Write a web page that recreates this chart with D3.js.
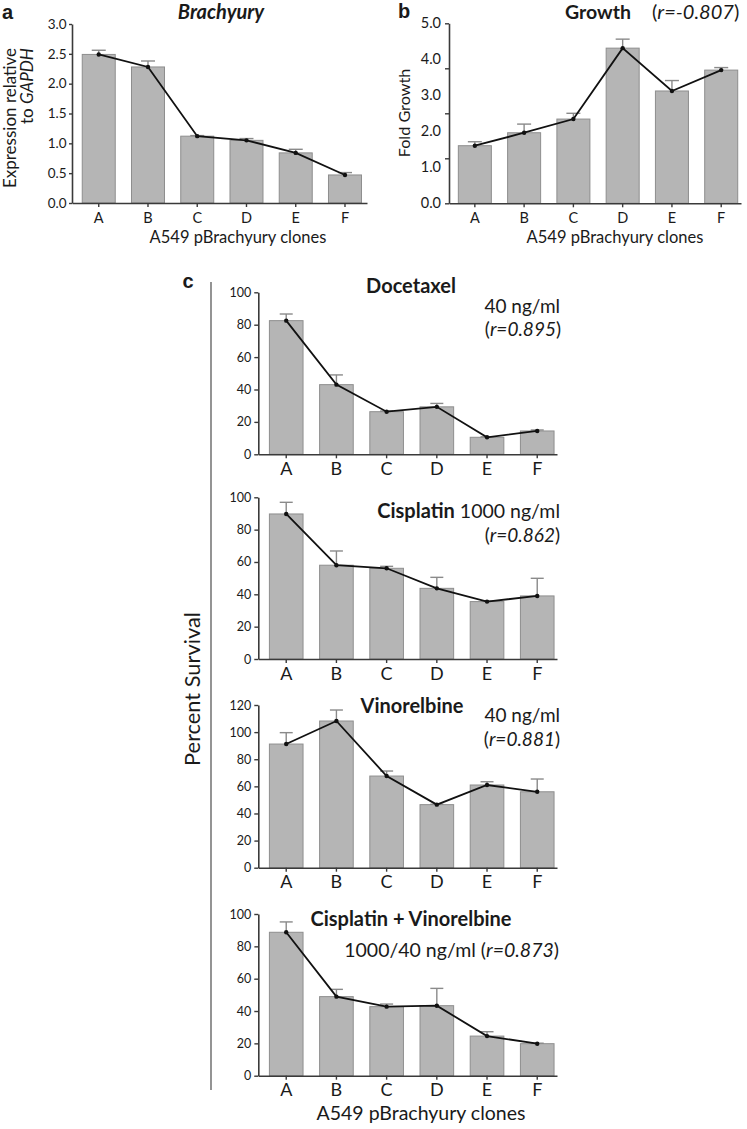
<!DOCTYPE html>
<html><head><meta charset="utf-8">
<script src="https://cdn.jsdelivr.net/npm/d3@7"></script>
<style>
body{margin:0;background:#fff}
svg{display:block}
text{font-family:Lato,"Open Sans",sans-serif;fill:#1a1a1a}
</style>
</head><body>
<svg id="chart" width="747" height="1129"></svg>
<script>
// ---------- data ----------
const clones = ["A","B","C","D","E","F"];

const brachyuryMean = [2.49, 2.28, 1.12, 1.05, 0.84, 0.47];
const brachyuryErr  = [0.07, 0.10, 0.01, 0.03, 0.06, 0.04];
const brachyuryTicks = [0, 0.5, 1.0, 1.5, 2.0, 2.5, 3.0];

const growthMean = [1.60, 1.96, 2.34, 4.31, 3.12, 3.70];
const growthErr  = [0.11, 0.24, 0.16, 0.25, 0.29, 0.07];
const growthTickMarks  = [0, 1.25, 2.5, 3.75, 5];
const growthTickLabels = [0, 1, 2, 3, 4, 5];

const docetaxelMean = [82.5, 43.0, 26.3, 29.3, 10.5, 14.4];
const docetaxelErr  = [4.1, 6.0, 0.4, 2.1, 0.3, 0.6];
const cisplatinMean = [89.7, 58.0, 56.1, 43.7, 35.5, 39.0];
const cisplatinErr  = [7.2, 8.8, 1.2, 6.8, 0.3, 10.9];
const vinorelbineMean = [91.2, 108.2, 67.6, 46.5, 61.0, 56.0];
const vinorelbineErr  = [8.4, 8.1, 3.7, 0.3, 2.4, 9.4];
const comboMean = [88.7, 48.9, 42.7, 43.3, 24.5, 19.8];
const comboErr  = [6.4, 4.5, 1.6, 10.7, 2.7, 0.3];
const survivalTicks100 = [0, 20, 40, 60, 80, 100];
const survivalTicks120 = [0, 20, 40, 60, 80, 100, 120];

// ---------- drawing ----------
const svg = d3.select("#chart");
const BAR_FILL = "#b5b5b5", BAR_STROKE = "#8e8e8e", ERR = "#8a8a8a", AXIS = "#3a3a3a";

function panel(o) {
  const x = d3.scaleBand().domain(clones).range([o.left, o.right])
    .paddingInner(0.33).paddingOuter(o.po).align(o.align);
  const y = d3.scaleLinear().domain([0, o.max]).range([o.bottom, o.top]);
  const cx = d => x(d) + x.bandwidth() / 2;
  const g = svg.append("g");

  g.selectAll("rect").data(clones).join("rect")
    .attr("x", d => x(d)).attr("width", x.bandwidth())
    .attr("y", (d, i) => y(o.mean[i])).attr("height", (d, i) => y(0) - y(o.mean[i]))
    .attr("fill", BAR_FILL).attr("stroke", BAR_STROKE).attr("stroke-width", 1);

  const eg = g.append("g").attr("stroke", ERR).attr("stroke-width", 1.4);
  eg.selectAll("line.v").data(clones).join("line").attr("class", "v")
    .attr("x1", cx).attr("x2", cx)
    .attr("y1", (d, i) => y(o.mean[i])).attr("y2", (d, i) => y(o.mean[i] + o.err[i]));
  eg.selectAll("line.c").data(clones).join("line").attr("class", "c")
    .attr("x1", d => cx(d) - o.cap / 2).attr("x2", d => cx(d) + o.cap / 2)
    .attr("y1", (d, i) => y(o.mean[i] + o.err[i])).attr("y2", (d, i) => y(o.mean[i] + o.err[i]));

  const line = d3.line().x((d, i) => cx(clones[i])).y(d => y(d));
  g.append("path").datum(o.mean).attr("d", line)
    .attr("fill", "none").attr("stroke", "#111").attr("stroke-width", 1.8);
  g.selectAll("circle").data(o.mean).join("circle")
    .attr("cx", (d, i) => cx(clones[i])).attr("cy", d => y(d)).attr("r", 2.2).attr("fill", "#111");

  const xa = g.append("g").attr("transform", `translate(0,${o.bottom})`)
    .call(d3.axisBottom(x).tickSize(4).tickPadding(o.xpad).tickSizeOuter(0));
  xa.selectAll("text").style("font-size", o.xfont + "px");

  const ya = g.append("g").attr("transform", `translate(${o.left},0)`);
  if (o.tickMarks) {
    ya.call(d3.axisLeft(y).tickValues(o.tickMarks).tickFormat("").tickSize(4).tickSizeOuter(0));
    const yl = g.append("g").attr("transform", `translate(${o.left},0)`)
      .call(d3.axisLeft(y).tickValues(o.ticks).tickFormat(o.fmt).tickSize(0).tickPadding(o.ypad + 4));
    yl.select(".domain").remove();
    yl.selectAll("text").style("font-size", o.yfont + "px");
  } else {
    ya.call(d3.axisLeft(y).tickValues(o.ticks).tickFormat(o.fmt).tickSize(o.ytick).tickPadding(o.ypad).tickSizeOuter(0));
    ya.selectAll("text").style("font-size", o.yfont + "px");
  }
  g.selectAll(".domain").attr("stroke", AXIS).attr("stroke-width", 1.6);
  g.selectAll(".tick line").attr("stroke", AXIS).attr("stroke-width", 1.4);
  g.selectAll(".tick text").attr("fill", "#1a1a1a").style("font-family", "Lato, sans-serif");
  return g;
}

// Panel a
panel({mean: brachyuryMean, err: brachyuryErr, left: 72, right: 367, po: 0.16, align: 0.65,
  bottom: 203, top: 24, max: 3, ticks: brachyuryTicks, fmt: d3.format(".1f"),
  ytick: 3, ypad: 2.5, yfont: 13.5, xpad: 5.5, xfont: 14.5, cap: 14});
// Panel b
panel({mean: growthMean, err: growthErr, left: 449, right: 741, po: 0.128, align: 0.74,
  bottom: 203.3, top: 23.3, max: 5, ticks: growthTickLabels, tickMarks: growthTickMarks,
  fmt: d3.format(".1f"), ypad: 4, yfont: 14.5, xpad: 5.5, xfont: 14.5, cap: 14});
// Panel c
const cCommon = {left: 258.3, right: 557, po: 0.14, align: 0.79, ytick: 4, ypad: 3,
  yfont: 12.5, xpad: 4, xfont: 18, cap: 13, fmt: d3.format("d")};
panel(Object.assign({}, cCommon, {mean: docetaxelMean, err: docetaxelErr, bottom: 454.3, top: 292.3, max: 100, ticks: survivalTicks100}));
panel(Object.assign({}, cCommon, {mean: cisplatinMean, err: cisplatinErr, bottom: 659, top: 497.3, max: 100, ticks: survivalTicks100}));
panel(Object.assign({}, cCommon, {mean: vinorelbineMean, err: vinorelbineErr, bottom: 867.7, top: 705, max: 120, ticks: survivalTicks120}));
panel(Object.assign({}, cCommon, {mean: comboMean, err: comboErr, bottom: 1075.7, top: 914, max: 100, ticks: survivalTicks100}));

// ---------- text ----------
function txt(x, y, s, opts = {}) {
  const t = svg.append("text").attr("x", x).attr("y", y).text(s)
    .style("font-size", (opts.size || 16) + "px")
    .attr("text-anchor", opts.anchor || "start");
  if (opts.weight) t.style("font-weight", opts.weight);
  if (opts.italic) t.style("font-style", "italic");
  if (opts.family) t.style("font-family", opts.family);
  return t;
}
function rich(x, y, parts, size, anchor) {
  const t = svg.append("text").attr("x", x).attr("y", y)
    .style("font-size", size + "px").attr("text-anchor", anchor || "start");
  parts.forEach(p => {
    const ts = t.append("tspan").text(p[0]);
    if (p[1] === "i") ts.style("font-style", "italic");
    if (p[1] === "b") ts.style("font-weight", "bold").style("font-size", "20px");
  });
  return t;
}

// panel letters
txt(2, 18.5, "a", {size: 20, weight: "bold", family: "'Liberation Sans', Arial, sans-serif"});
txt(398, 18, "b", {size: 20, weight: "bold", family: "'Liberation Sans', Arial, sans-serif"});
txt(182.5, 288, "c", {size: 20, weight: "bold", family: "'Liberation Sans', Arial, sans-serif"});

// panel a
txt(221, 18.5, "Brachyury", {size: 20, weight: "bold", italic: true, anchor: "middle"});
txt(238, 243, "A549 pBrachyury clones", {size: 16.5, anchor: "middle"});
svg.append("text").attr("transform", "translate(16,118) rotate(-90)")
  .attr("text-anchor", "middle").style("font-size", "17px").text("Expression relative");
rich(0, 0, [["to "], ["GAPDH", "i"]], 17, "middle").attr("transform", "translate(33,86) rotate(-90)");

// panel b
txt(565, 18.5, "Growth", {size: 19.5, weight: "bold"});
rich(652, 18.5, [["("], ["r=-0.807", "i"], [")"]], 20);
txt(615, 243, "A549 pBrachyury clones", {size: 16.5, anchor: "middle"});
svg.append("text").attr("transform", "translate(410,113) rotate(-90)")
  .attr("text-anchor", "middle").style("font-size", "16.2px").text("Fold Growth");

// panel c
svg.append("line").attr("x1", 211).attr("x2", 211).attr("y1", 282).attr("y2", 1090)
  .attr("stroke", "#888").attr("stroke-width", 1.8);
svg.append("text").attr("transform", "translate(200,689) rotate(-90)")
  .attr("text-anchor", "middle").style("font-size", "21.8px").text("Percent Survival");
txt(421, 1120, "A549 pBrachyury clones", {size: 19.5, anchor: "middle"});

txt(411, 293, "Docetaxel", {size: 20, weight: "bold", anchor: "middle"});
txt(560, 312.5, "40 ng/ml", {size: 19, anchor: "end"});
rich(561, 335.5, [["("], ["r=0.895", "i"], [")"]], 19, "end");

rich(560, 518, [["Cisplatin", "b"], ["  1000 ng/ml"]], 19.5, "end");
rich(560, 541.5, [["("], ["r=0.862", "i"], [")"]], 19, "end");

txt(412, 713, "Vinorelbine", {size: 20, weight: "bold", anchor: "middle"});
txt(560, 722, "40 ng/ml", {size: 19, anchor: "end"});
rich(560, 745.5, [["("], ["r=0.881", "i"], [")"]], 19, "end");

txt(411, 926, "Cisplatin + Vinorelbine", {size: 20, weight: "bold", anchor: "middle"});
rich(559, 956.7, [["1000/40 ng/ml ("], ["r=0.873", "i"], [")"]], 19.5, "end");
</script>
</body></html>
